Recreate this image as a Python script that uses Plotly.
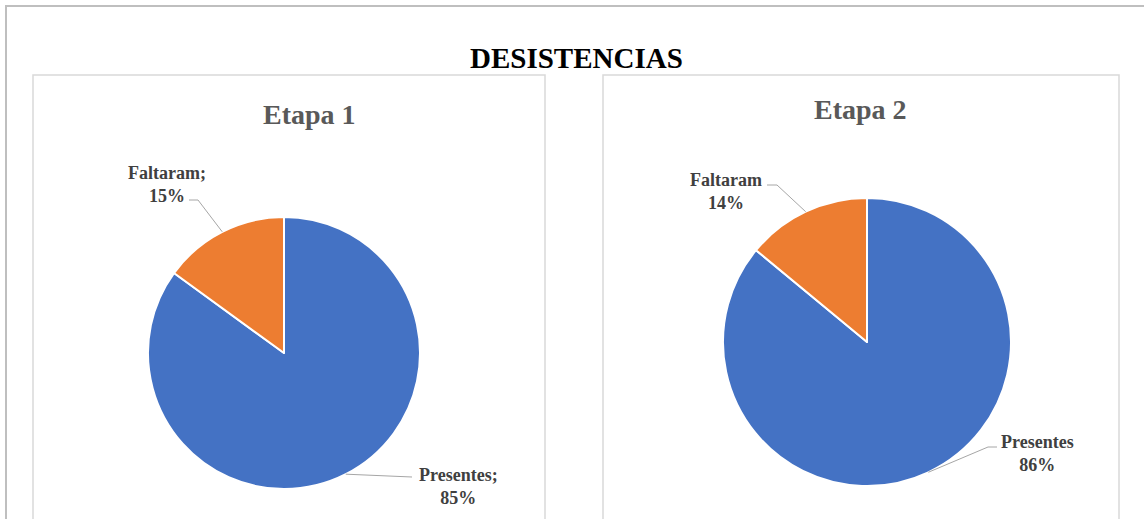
import math

import plotly.graph_objects as go

W, H = 1144, 519

chart_title = "DESISTENCIAS"
stage_titles = ["Etapa 1", "Etapa 2"]
categories = ["Presentes", "Faltaram"]
stage1_pct = [85, 15]
stage2_pct = [86, 14]
label_sep = [";", ""]  # Etapa 1 labels use "Nome;", Etapa 2 just "Nome"

COLORS = ["#4472C4", "#ED7D31"]
FONT = "Liberation Serif"


def px(x):
    return x / W


def py(y):
    return 1 - y / H


# pie geometry in page pixels: centre x, centre y, radius
pies = [
    dict(cx=284, cy=353, r=136, values=stage1_pct, title=stage_titles[0], sep=label_sep[0],
         panel=(33, 75, 545, 530), title_xy=(309, 114)),
    dict(cx=867, cy=342, r=144, values=stage2_pct, title=stage_titles[1], sep=label_sep[1],
         panel=(603, 75, 1119, 530), title_xy=(860, 110)),
]

# label placement per pie / slice: text centre, then the leader elbow points
label_layout = [
    [dict(text=(458, 486), elbow=[(412, 477)]),
     dict(text=(167, 184), elbow=[(198, 200), (189, 200)])],
    [dict(text=(1037, 453), elbow=[(988, 447), (997, 447)]),
     dict(text=(726, 191), elbow=[(777, 185), (767, 185)])],
]

fig = go.Figure()
shapes = []
annotations = []

# outer frame (top + left only visible)
shapes.append(dict(type="path", xref="paper", yref="paper",
                   path=f"M {px(1144)},{py(6)} L {px(6)},{py(6)} L {px(6)},{py(519)}",
                   line=dict(color="#bfbfbf", width=2)))

annotations.append(dict(x=px(576), y=py(58), xref="paper", yref="paper",
                        text=f"<b>{chart_title}</b>", showarrow=False,
                        xanchor="center", yanchor="middle",
                        font=dict(family=FONT, size=29, color="#000000")))

for i, p in enumerate(pies):
    x0, y0, x1, y1 = p["panel"]
    shapes.append(dict(type="rect", xref="paper", yref="paper",
                       x0=px(x0), x1=px(x1), y0=py(y1), y1=py(y0),
                       line=dict(color="#d9d9d9", width=1.5), layer="below"))
    annotations.append(dict(x=px(p["title_xy"][0]), y=py(p["title_xy"][1]),
                            xref="paper", yref="paper", text=f"<b>{p['title']}</b>",
                            showarrow=False, xanchor="center", yanchor="middle",
                            font=dict(family=FONT, size=28, color="#595959")))

    fig.add_trace(go.Pie(
        labels=categories, values=p["values"], sort=False, direction="clockwise",
        rotation=0, textinfo="none", hoverinfo="label+percent",
        marker=dict(colors=COLORS, line=dict(color="#ffffff", width=2)),
        domain=dict(x=[px(p["cx"] - p["r"]), px(p["cx"] + p["r"])],
                    y=[py(p["cy"] + p["r"]), py(p["cy"] - p["r"])]),
        showlegend=False,
    ))

    total = sum(p["values"])
    start = 0.0
    for j, (cat, v) in enumerate(zip(categories, p["values"])):
        mid = (start + v / 2) / total * 2 * math.pi
        start += v
        ax = p["cx"] + p["r"] * math.sin(mid)
        ay = p["cy"] - p["r"] * math.cos(mid)
        lay = label_layout[i][j]
        pts = [(ax, ay)] + lay["elbow"]
        path = "M " + " L ".join(f"{px(x)},{py(y)}" for x, y in pts)
        shapes.append(dict(type="path", xref="paper", yref="paper", path=path,
                           line=dict(color="#a6a6a6", width=1)))
        pct = round(v / total * 100)
        annotations.append(dict(x=px(lay["text"][0]), y=py(lay["text"][1]),
                                xref="paper", yref="paper",
                                text=f"<b>{cat}{p['sep']}<br>{pct}%</b>",
                                showarrow=False, xanchor="center", yanchor="middle",
                                align="center",
                                font=dict(family=FONT, size=18, color="#404040")))

fig.update_layout(
    width=W, height=H, autosize=False,
    margin=dict(l=0, r=0, t=0, b=0),
    paper_bgcolor="#ffffff", plot_bgcolor="#ffffff",
    shapes=shapes, annotations=annotations,
)

# drop the browser's default 8px body margin so page pixels match the figure
fig.write_html("out.html", config=dict(displayModeBar=False),
               post_script="document.body.style.margin='0';document.body.style.overflow='hidden';")
